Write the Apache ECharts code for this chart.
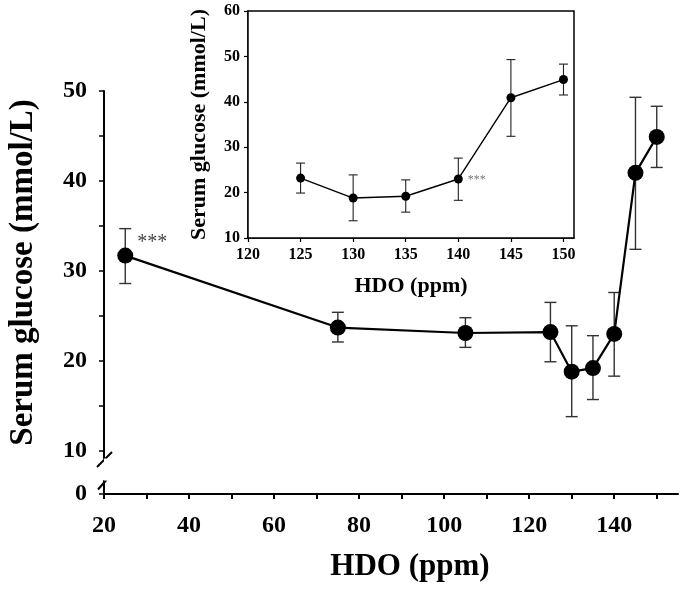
<!DOCTYPE html>
<html><head><meta charset="utf-8">
<script src="https://cdn.jsdelivr.net/npm/echarts@6/dist/echarts.min.js"></script>
<style>html,body{margin:0;padding:0;background:#fff}#c{width:685px;height:589px}</style>
</head><body><div id="c"></div>
<script>
// ---- data ----
const hdo      = [25, 75, 105, 125, 130, 135, 140, 145, 150];
const glucose  = [31.7, 23.7, 23.1, 23.2, 18.8, 19.2, 23.0, 40.9, 44.9];
const errLow   = [28.6, 22.1, 21.5, 19.9, 13.8, 15.7, 18.3, 32.4, 41.5];
const errHigh  = [34.7, 25.4, 24.8, 26.5, 23.9, 22.8, 27.6, 49.3, 48.3];
const insetFrom = 125;           // inset shows HDO >= 125
const sigMainX = 25;             // '***' in main plot
const sigInsetX = 140;           // '***' in inset
const sigText = '***';
// ticks / labels
const mainXTicks  = [20,30,40,50,60,70,80,90,100,110,120,130,140,150];
const mainXLabels = [20,40,60,80,100,120,140];
const mainYTicks  = [0,10,15,20,25,30,35,40,45,50];
const mainYLabels = [0,10,20,30,40,50];
const insetXTicks = [120,125,130,135,140,145,150];
const insetYTicks = [10,20,30,40,50,60];
const xTitle = 'HDO (ppm)';
const yTitle = 'Serum glucose (mmol/L)';

const FONT = '"Liberation Serif","Times New Roman",serif';

const mainPts = hdo.map((x,i)=>{
  const it = {value:[x, glucose[i]]};
  if (x === sigMainX) it.label = {show:true, formatter:sigText, position:'right', distance:4, offset:[0,-13], fontSize:20, fontFamily:FONT, color:'#444'};
  return it;
});
const mainErr = hdo.map((x,i)=>[x, errLow[i], errHigh[i]]);
const insetPts = [], insetErr = [];
hdo.forEach((x,i)=>{
  if (x >= insetFrom) {
    const it = {value:[x, glucose[i]]};
    if (x === sigInsetX) it.label = {show:true, formatter:sigText, position:'right', distance:5, offset:[0,1], fontSize:12, fontFamily:FONT, color:'#777'};
    insetPts.push(it);
    insetErr.push([x, errLow[i], errHigh[i]]);
  }
});

function errRender(cap, color, width) {
  return function(params, api) {
    const x = api.value(0), lo = api.value(1), hi = api.value(2);
    const a = api.coord([x, lo]), b = api.coord([x, hi]);
    const st = {stroke:color, lineWidth:width, fill:null};
    return {type:'group', children:[
      {type:'line', shape:{x1:a[0], y1:a[1], x2:b[0], y2:b[1]}, style:st},
      {type:'line', shape:{x1:a[0]-cap, y1:a[1], x2:a[0]+cap, y2:a[1]}, style:st},
      {type:'line', shape:{x1:b[0]-cap, y1:b[1], x2:b[0]+cap, y2:b[1]}, style:st}
    ]};
  };
}

const chart = echarts.init(document.getElementById('c'), null, {renderer:'canvas'});
const axisTxt = {fontFamily:FONT, fontWeight:'bold', color:'#000'};
const option = {
  animation:false,
  backgroundColor:'#fff',
  grid:[
    {left:104, top:91, width:574, height:403, show:false, containLabel:false, outerBoundsMode:'none'},
    {left:248, top:11, width:326, height:227, show:true, borderColor:'#000', borderWidth:1.5, backgroundColor:'#fff', z:5, containLabel:false, outerBoundsMode:'none'}
  ],
  xAxis:[
    {gridIndex:0, type:'value', min:20, max:155, interval:10,
     axisLine:{show:true, onZero:false, lineStyle:{color:'#000', width:2}},
     axisTick:{show:true, inside:false, length:5, customValues:mainXTicks, lineStyle:{color:'#000', width:2}},
     axisLabel:Object.assign({customValues:mainXLabels, fontSize:24, margin:20}, axisTxt),
     splitLine:{show:false},
     name:xTitle, nameLocation:'middle', nameGap:57,
     nameTextStyle:Object.assign({fontSize:31, padding:[0,0,0,38]}, axisTxt)},
    {gridIndex:1, type:'value', min:120, max:151, interval:5,
     axisLine:{show:true, onZero:false, lineStyle:{color:'#000', width:1.5}},
     axisTick:{show:true, inside:false, length:4, customValues:insetXTicks, lineStyle:{color:'#000', width:1.2}},
     axisLabel:Object.assign({customValues:insetXTicks, fontSize:16, margin:9}, axisTxt),
     splitLine:{show:false},
     name:xTitle, nameLocation:'middle', nameGap:37,
     nameTextStyle:Object.assign({fontSize:22}, axisTxt)},
  ],
  yAxis:[
    {gridIndex:0, type:'value', min:0, max:50, interval:5,
     breaks:[{start:1.5, end:9.2, gap:2.5}],
     breakArea:{show:true, expandOnClick:false, zigzagAmplitude:1,
       itemStyle:{color:'#fff', borderColor:'#fff', borderWidth:0, opacity:1}},
     axisLine:{show:true, onZero:false, lineStyle:{color:'#000', width:2}},
     axisTick:{show:true, inside:false, length:5, customValues:mainYTicks, lineStyle:{color:'#000', width:1.5}},
     axisLabel:Object.assign({customValues:mainYLabels, fontSize:24, margin:17}, axisTxt),
     splitLine:{show:false},
     name:yTitle, nameLocation:'middle', nameGap:64,
     nameTextStyle:Object.assign({fontSize:33, padding:[0,0,0,40]}, axisTxt)},
    {gridIndex:1, type:'value', min:10, max:60, interval:10,
     axisLine:{show:true, onZero:false, lineStyle:{color:'#000', width:1.5}},
     axisTick:{show:true, inside:false, length:4, customValues:insetYTicks, lineStyle:{color:'#000', width:1.2}},
     axisLabel:Object.assign({customValues:insetYTicks, fontSize:16, margin:8}, axisTxt),
     splitLine:{show:false},
     name:yTitle, nameLocation:'middle', nameGap:38,
     nameTextStyle:Object.assign({fontSize:22}, axisTxt)}
  ],
  series:[
    {type:'custom', xAxisIndex:0, yAxisIndex:0, z:2, data:mainErr, encode:{x:0, y:[1,2]},
     renderItem:errRender(6, '#333', 1.4)},
    {type:'line', xAxisIndex:0, yAxisIndex:0, z:3, data:mainPts, symbol:'circle', symbolSize:16,
     itemStyle:{color:'#000'}, lineStyle:{color:'#000', width:2.2}},
    {type:'custom', xAxisIndex:1, yAxisIndex:1, z:6, data:insetErr, encode:{x:0, y:[1,2]},
     renderItem:errRender(4.5, '#222', 1.1)},
    {type:'line', xAxisIndex:1, yAxisIndex:1, z:7, data:insetPts, symbol:'circle', symbolSize:9,
     itemStyle:{color:'#000'}, lineStyle:{color:'#000', width:1.4}}
  ]
};
chart.setOption(option);

// axis-break slashes on the main y axis
const up = chart.convertToPixel({xAxisIndex:0, yAxisIndex:0}, [20, 9.2]);
const dn = chart.convertToPixel({xAxisIndex:0, yAxisIndex:0}, [20, 1.5]);
const s = {stroke:'#000', lineWidth:2};
chart.setOption({graphic:[
  {type:'line', z:50, shape:{x1:up[0]-7, y1:up[1]+9, x2:up[0]+8, y2:up[1]-6}, style:s},
  {type:'line', z:50, shape:{x1:dn[0]-6, y1:dn[1]+9, x2:dn[0]+8, y2:dn[1]-7}, style:s}
]});
</script></body></html>
